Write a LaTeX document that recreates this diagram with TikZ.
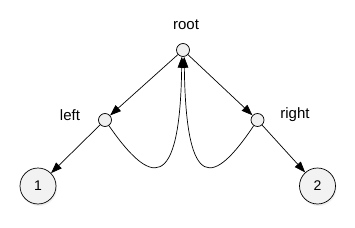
\documentclass[tikz,border=0pt]{standalone}
\usepackage{fontspec}
\setmainfont{Liberation Sans}
\usetikzlibrary{arrows.meta,shadows}

\begin{document}
\begin{tikzpicture}[
    x=1pt, y=-1pt,
    font=\fontsize{15}{18}\selectfont,
    arrow/.style={
        -{Triangle[length=11pt,width=8pt]},
        draw=black,
        line width=0.7pt
    },
    joint/.style={
        circle,
        draw=black,
        line width=0.7pt,
        fill=black!6,
        minimum size=13pt,
        inner sep=0pt
    },
    leaf/.style={
        circle,
        draw=black,
        line width=0.7pt,
        fill=black!5,
        minimum size=36pt,
        inner sep=0pt,
        drop shadow={opacity=0.12, shadow xshift=1pt, shadow yshift=-2pt},
        font=\fontsize{14}{16}\selectfont
    },
    tag/.style={inner sep=0pt}
]
\useasboundingbox (0,0) rectangle (355,227);

\node[joint] (root) at (183,50) {};
\node[joint] (left) at (105,120) {};
\node[joint] (right) at (257.5,120) {};
\node[leaf] (one) at (38,186) {1};
\node[leaf] (two) at (317.5,186) {2};

\node[tag] (rootlbl) at (186,25) {root};
\node[tag] (leftlbl) at (70,115) {left};
\node[tag] (rightlbl) at (295,115) {right};

\draw[arrow] (root) -- (left);
\draw[arrow] (root) -- (right);
\draw[arrow] (left) -- (one);
\draw[arrow] (right) -- (two);

\draw[arrow] (left) .. controls (150,185) and (180,195) .. (root.-100);
\draw[arrow] (right) .. controls (214,185) and (186,195) .. (root.-80);

\end{tikzpicture}
\end{document}
